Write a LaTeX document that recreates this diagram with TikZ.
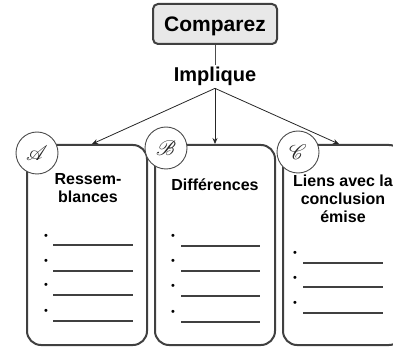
\documentclass[tikz,border=0pt]{standalone}
\usepackage{fontspec}
\setmainfont{Liberation Sans}
\usepackage{mathrsfs}
\usetikzlibrary{arrows.meta}
\newcommand{\badgeletter}[1]{\scalebox{2.1}{$\mathscr{#1}$}}
\begin{document}
\begin{tikzpicture}[x=1pt,y=-1pt,
  card/.style={draw=black!75,line width=2pt,rounded corners=14pt,fill=white,minimum width=120pt,minimum height=200pt,inner sep=0pt},
  badge/.style={circle,draw=black!70,line width=0.9pt,fill=white,minimum size=42pt,inner sep=0pt,text=black!85},
  ctitle/.style={font=\bfseries\fontsize{16}{18}\selectfont,align=center,anchor=north,inner sep=0pt},
  arr/.style={-{Stealth[length=6pt,width=5pt]},line width=0.8pt,draw=black!85},
  blank/.style={line width=1.4pt,draw=black!75},
  dot/.style={font=\fontsize{11}{11}\selectfont,inner sep=0pt}
]
\path[use as bounding box] (0,0) rectangle (393,347);
\clip (0,0) rectangle (393,347);

% top
\node[draw=black!75,fill=black!9,line width=2pt,rounded corners=5pt,minimum width=124pt,minimum height=40pt,text depth=0pt,font=\bfseries\fontsize{21}{23}\selectfont] (cmp) at (215,24) {Comparez};
\node[anchor=base,inner sep=2pt,font=\bfseries\fontsize{20}{22}\selectfont] (imp) at (215,82) {Implique};
\draw[line width=0.8pt,draw=black!70] (cmp.south) -- (imp.north);

% cards
\node[card] (cardA) at (87,245) {};
\node[card] (cardB) at (215,245) {};
\node[card] (cardC) at (343,245) {};

\draw[arr] (imp.south) -- ([xshift=5pt]cardA.north);
\draw[arr] (imp.south) -- (cardB.north);
\draw[arr] (imp.south) -- ([xshift=-4pt]cardC.north);

% badges
\node[badge] (bA) at (37,153) {\badgeletter{A}};
\node[badge] (bB) at (166,148) {\badgeletter{B}};
\node[badge] (bC) at (298,152) {\badgeletter{C}};

% titles
\node[ctitle] (tA) at (88,173) {Ressem-\\blances};
\node[ctitle] (tB) at (215,179) {Différences};
\node[ctitle] (tC) at (343,175) {Liens avec la\\conclusion\\émise};

% blanks A
\foreach \b/\l in {237/245,262/271,286/295,312/321}{
  \node[dot] at (46,\b) {•};
  \draw[blank] (53,\l) -- (133,\l);
}
% blanks B
\foreach \b/\l in {237/246,262/271,287/296,313/322}{
  \node[dot] at (173,\b) {•};
  \draw[blank] (181,\l) -- (260,\l);
}
% blanks C
\foreach \b/\l in {254/263,279/287,304/313}{
  \node[dot] at (295,\b) {•};
  \draw[blank] (303,\l) -- (383,\l);
}
\end{tikzpicture}
\end{document}
